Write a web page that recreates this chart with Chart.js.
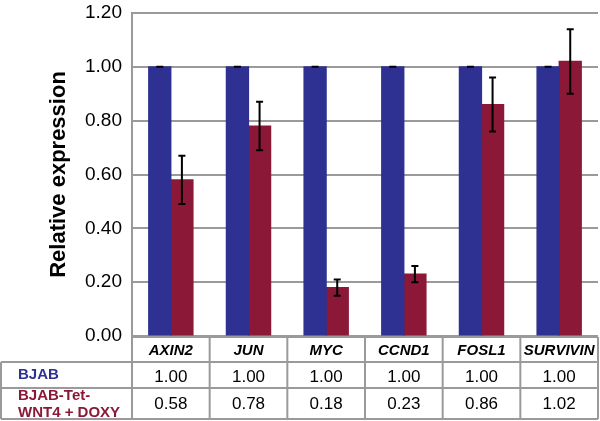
<!DOCTYPE html>
<html>
<head>
<meta charset="utf-8">
<script src="https://cdn.jsdelivr.net/npm/chart.js@4"></script>
<style>
html,body{margin:0;padding:0;background:#fff;}
#wrap{width:600px;height:421px;position:relative;}
</style>
</head>
<body>
<div id="wrap"><canvas id="c" width="600" height="421"></canvas></div>
<script>
const categories = ['AXIN2', 'JUN', 'MYC', 'CCND1', 'FOSL1', 'SURVIVIN'];
const seriesNames = ['BJAB', 'BJAB-Tet-\nWNT4 + DOXY'];
const bjab = [1.00, 1.00, 1.00, 1.00, 1.00, 1.00];
const bjabErr = [0, 0, 0, 0, 0, 0];
const wnt4 = [0.58, 0.78, 0.18, 0.23, 0.86, 1.02];
const wnt4Err = [0.09, 0.09, 0.03, 0.03, 0.10, 0.12];
const yTicks = [0, 0.2, 0.4, 0.6, 0.8, 1.0, 1.2];

const BLUE = '#2e3192';
const RED = '#8c1838';
const GRID = '#9a9a9a';
const FONT = '"Liberation Sans", Arial, Helvetica, sans-serif';

const errorBars = {
  id: 'errorBars',
  afterDatasetsDraw(chart) {
    const ctx = chart.ctx;
    const y = chart.scales.y;
    const errs = [bjabErr, wnt4Err];
    ctx.save();
    ctx.strokeStyle = '#000';
    ctx.lineWidth = 2;
    chart.data.datasets.forEach((ds, di) => {
      const meta = chart.getDatasetMeta(di);
      meta.data.forEach((bar, i) => {
        const v = ds.data[i], e = errs[di][i];
        const yt = y.getPixelForValue(v + e), yb = y.getPixelForValue(v - e);
        const cx = bar.x, cw = 3.5;
        ctx.beginPath();
        ctx.moveTo(cx, yt); ctx.lineTo(cx, yb);
        ctx.moveTo(cx - cw, yt); ctx.lineTo(cx + cw, yt);
        ctx.moveTo(cx - cw, yb); ctx.lineTo(cx + cw, yb);
        ctx.stroke();
      });
    });
    ctx.restore();
  }
};

const dataTable = {
  id: 'dataTable',
  afterDraw(chart) {
    const ctx = chart.ctx;
    const ca = chart.chartArea;
    const xs = chart.scales.x;
    const n = categories.length;
    const cw = (ca.right - ca.left) / n;
    const r0 = ca.bottom + 1, r1 = r0 + 25, r2 = r1 + 26, r3 = chart.height - 2;
    ctx.save();
    ctx.strokeStyle = GRID;
    ctx.lineWidth = 2;
    ctx.beginPath();
    ctx.moveTo(ca.left, r0); ctx.lineTo(ca.right, r0);
    ctx.moveTo(1, r1); ctx.lineTo(ca.right, r1);
    ctx.moveTo(1, r2); ctx.lineTo(ca.right, r2);
    ctx.moveTo(1, r3); ctx.lineTo(ca.right, r3);
    ctx.moveTo(1, r1); ctx.lineTo(1, r3);
    ctx.moveTo(ca.left, r0); ctx.lineTo(ca.left, r3);
    for (let i = 0; i < n; i++) {
      const xr = xs.getPixelForValue(i) + cw / 2;
      ctx.moveTo(xr, r0); ctx.lineTo(xr, r3);
    }
    ctx.stroke();

    ctx.textAlign = 'center';
    ctx.textBaseline = 'middle';
    ctx.fillStyle = '#000';
    ctx.font = 'italic bold 15px ' + FONT;
    categories.forEach((c, i) => {
      ctx.fillText(c, xs.getPixelForValue(i), (r0 + r1) / 2 + 1);
    });
    ctx.font = '17px ' + FONT;
    bjab.forEach((v, i) => {
      ctx.fillText(v.toFixed(2), xs.getPixelForValue(i), (r1 + r2) / 2 + 2);
    });
    wnt4.forEach((v, i) => {
      ctx.fillText(v.toFixed(2), xs.getPixelForValue(i), (r2 + r3) / 2 + 1);
    });
    ctx.textAlign = 'left';
    ctx.font = 'bold 15px ' + FONT;
    ctx.fillStyle = BLUE;
    ctx.fillText(seriesNames[0], 18, (r1 + r2) / 2);
    ctx.fillStyle = RED;
    const lines = seriesNames[1].split('\n');
    ctx.fillText(lines[0], 18, (r2 + r3) / 2 - 8);
    ctx.fillText(lines[1], 18, (r2 + r3) / 2 + 9);
    ctx.restore();
  }
};

new Chart(document.getElementById('c'), {
  type: 'bar',
  data: {
    labels: categories,
    datasets: [
      { label: 'BJAB', data: bjab, backgroundColor: BLUE, borderWidth: 0, inflateAmount: 0.6 },
      { label: 'BJAB-Tet-WNT4 + DOXY', data: wnt4, backgroundColor: RED, borderWidth: 0, inflateAmount: 0.6 }
    ]
  },
  options: {
    responsive: false,
    animation: false,
    layout: { padding: { top: 13, right: 2, bottom: 85, left: 0 } },
    plugins: { legend: { display: false }, tooltip: { enabled: false } },
    datasets: { bar: { categoryPercentage: 0.57, barPercentage: 1.0 } },
    scales: {
      x: { display: false },
      y: {
        min: 0, max: 1.2,
        afterBuildTicks(axis) { axis.ticks = yTicks.map(v => ({ value: v })); },
        afterFit(axis) { axis.width = 132; axis.paddingTop = 0; axis.paddingBottom = 0; },
        ticks: {
          padding: 10,
          color: '#000',
          font: { family: FONT, size: 19 },
          callback: v => Number(v).toFixed(2)
        },
        grid: { color: GRID, lineWidth: 2, drawTicks: false },
        border: { color: GRID, width: 2 },
        title: {
          display: true,
          text: 'Relative expression',
          color: '#000',
          font: { family: FONT, size: 22, weight: 'bold' },
          padding: { top: 46, bottom: 0 }
        }
      }
    }
  },
  plugins: [errorBars, dataTable]
});
</script>
</body>
</html>
